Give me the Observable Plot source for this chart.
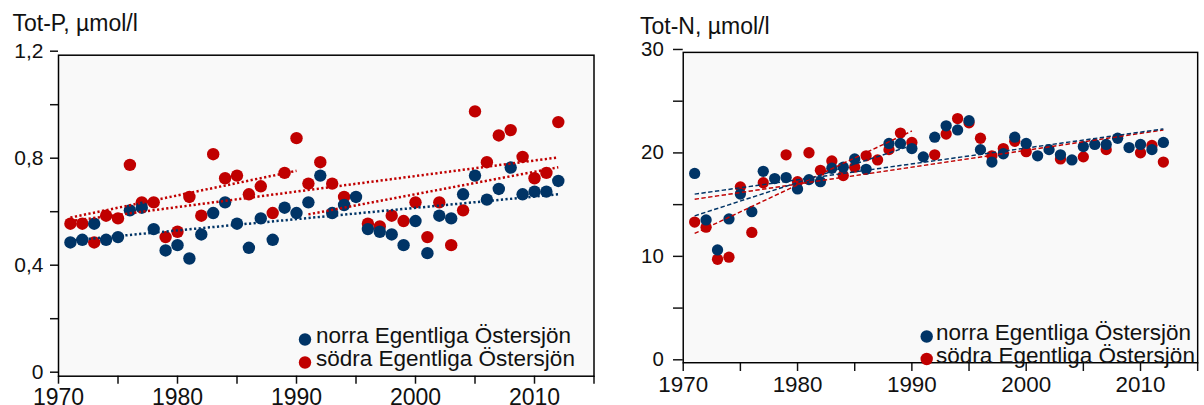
<!DOCTYPE html>
<html>
<head>
<meta charset="utf-8">
<script src="https://cdn.jsdelivr.net/npm/d3@7"></script>
<script src="https://cdn.jsdelivr.net/npm/@observablehq/plot@0.6"></script>
<style>
  html, body { margin: 0; padding: 0; background: #fff; overflow: hidden; }
  #wrap { position: relative; width: 1204px; height: 405px; overflow: hidden; font-family: "Liberation Sans", Arial, sans-serif; }
  .panel { position: absolute; top: 0; }
  #overlay { position: absolute; left: 0; top: 0; pointer-events: none; }
  g[aria-label="x-axis tick label"] { font-size: 23px; }
  g[aria-label="y-axis tick label"] { font-size: 21px; }
</style>
</head>
<body>
<div id="wrap">
  <div id="left" class="panel" style="left:0px"></div>
  <div id="right" class="panel" style="left:610px"></div>
</div>
<script>
// ---------- data ----------
const years = d3.range(1971, 2013);

// Tot-P, µmol/l
const pNorra = [0.50,0.51,0.57,0.51,0.52,0.62,0.63,0.55,0.47,0.49,0.44,0.53,0.61,0.65,0.57,0.48,0.59,0.51,0.63,0.61,
                0.65,0.75,0.61,0.64,0.67,0.55,0.54,0.53,0.49,0.58,0.46,0.60,0.59,0.68,0.75,0.66,0.70,0.78,0.68,0.69,0.69,0.73];
const pSodra = [0.57,0.57,0.50,0.60,0.59,0.79,0.65,0.65,0.52,0.54,0.67,0.60,0.83,0.74,0.75,0.68,0.71,0.61,0.76,0.89,
                0.72,0.80,0.72,0.67,null,0.57,0.56,0.60,0.58,0.65,0.52,0.65,0.49,0.62,0.99,0.80,0.90,0.92,0.82,0.74,0.76,0.95];

// Tot-N, µmol/l
const nNorra = [18.3,13.8,10.9,13.9,16.3,14.6,18.5,17.8,17.9,16.8,17.7,17.5,18.8,18.9,19.7,18.7,null,21.2,21.2,20.7,
                19.9,21.8,22.9,22.5,23.4,20.6,19.4,20.2,21.8,21.2,20.0,20.6,20.1,19.6,20.9,21.1,21.1,21.7,20.8,21.1,20.6,21.3];
const nSodra = [13.6,13.1,10.0,10.2,17.0,12.6,17.4,null,20.1,17.5,20.3,18.6,19.5,18.1,18.9,20.0,19.6,20.6,22.2,21.3,
                null,20.1,22.1,23.6,23.2,21.7,20.0,20.7,21.4,20.4,null,null,19.7,null,19.9,null,20.6,null,null,20.3,21.0,19.4];

// trend lines: [year, value] end points
const pTrendNorra  = [[1971, 0.507], [2012, 0.680]];
const pTrendSodraA = [[1971, 0.593], [1990, 0.768]];
const pTrendSodraB = [[1971, 0.580], [2012, 0.818]];
const pTrendSodraC = [[1991, 0.605], [2012, 0.781]];

const nTrendNorraA = [[1971, 16.3], [2012, 22.6]];
const nTrendNorraB = [[1971, 14.2], [1990, 21.0]];
const nTrendSodraA = [[1971, 15.8], [2012, 22.5]];
const nTrendSodraB = [[1971, 12.5], [1990, 22.4]];

const seriesNames = ["norra Egentliga Östersjön", "södra Egentliga Östersjön"];
const titles = ["Tot-P, µmol/l", "Tot-N, µmol/l"];
const xTicks = d3.range(1970, 2016, 5);
const pYTicks = [0, 0.2, 0.4, 0.6, 0.8, 1.0, 1.2];
const nYTicks = [0, 5, 10, 15, 20, 25, 30];

// ---------- style ----------
const BLUE = "#003466";
const RED = "#c00000";
const BG = "#f9f9f9";

function rows(vals) {
  return years.map((y, i) => ({year: y, v: vals[i]})).filter(d => d.v != null);
}
function trend(pts) { return pts.map(([year, v]) => ({year, v})); }

const pFmt = d => (Math.round(d * 10) % 4 === 0 ? String(d).replace(".", ",") : "");
const nFmt = d => (d % 10 === 0 ? String(d) : "");
const xFmt = d => (d % 10 === 0 ? String(d) : "");

const baseStyle = {fontFamily: "'Liberation Sans', Arial, sans-serif", fontSize: "20px", color: "#111", background: "transparent", overflow: "visible"};

const dotted = {x: "year", y: "v", strokeWidth: 2.5, strokeDasharray: "2.2,2.4", strokeLinecap: "butt"};
const dashed = {x: "year", y: "v", strokeWidth: 1.5, strokeDasharray: "4.5,2.5", strokeLinecap: "butt"};

const left = Plot.plot({
  width: 600, height: 405,
  marginLeft: 58, marginRight: 6.5, marginTop: 54.7, marginBottom: 29.3,
  style: baseStyle,
  x: {domain: [1970, 2015], axis: null},
  y: {domain: [0, 1.2], axis: null},
  marks: [
    Plot.frame({fill: BG}),
    Plot.axisX({ticks: xTicks, label: null, tickSize: 8, tickPadding: 4, tickFormat: xFmt, fontSize: 23, strokeWidth: 1.5}),
    Plot.axisY({ticks: pYTicks, label: null, tickSize: 8, tickPadding: 7, tickFormat: pFmt, dy: -4, fontSize: 21, strokeWidth: 1.5}),
    Plot.dot(rows(pSodra), {x: "year", y: "v", r: 6.2, fill: RED}),
    Plot.dot(rows(pNorra), {x: "year", y: "v", r: 6.2, fill: BLUE}),
    Plot.line(trend(pTrendSodraA), {...dotted, stroke: RED}),
    Plot.line(trend(pTrendSodraB), {...dotted, stroke: RED}),
    Plot.line(trend(pTrendSodraC), {...dotted, stroke: RED}),
    Plot.line(trend(pTrendNorra), {...dotted, stroke: BLUE}),
    Plot.frame({stroke: "#000", strokeWidth: 1.5})
  ]
});
document.getElementById("left").appendChild(left);

const right = Plot.plot({
  width: 610, height: 405,
  marginLeft: 74.7, marginRight: 7, marginTop: 53.3, marginBottom: 33,
  style: baseStyle,
  x: {domain: [1970, 2015], axis: null},
  y: {domain: [0, 30], axis: null},
  marks: [
    Plot.frame({fill: BG}),
    Plot.axisX({ticks: xTicks, label: null, tickSize: 9, tickPadding: 5, tickFormat: xFmt, fontSize: 23, strokeWidth: 1.5}),
    Plot.axisY({ticks: nYTicks, label: null, tickSize: 10, tickPadding: 10, tickFormat: nFmt, dy: -3, fontSize: 21, strokeWidth: 1.5}),
    Plot.dot(rows(nSodra), {x: "year", y: "v", r: 5.8, fill: RED}),
    Plot.dot(rows(nNorra), {x: "year", y: "v", r: 5.8, fill: BLUE}),
    Plot.line(trend(nTrendSodraA), {...dashed, stroke: RED}),
    Plot.line(trend(nTrendSodraB), {...dashed, stroke: RED}),
    Plot.line(trend(nTrendNorraA), {...dashed, stroke: BLUE}),
    Plot.line(trend(nTrendNorraB), {...dashed, stroke: BLUE}),
    Plot.frame({stroke: "#000", strokeWidth: 1.5})
  ]
});
document.getElementById("right").appendChild(right);

// ---------- titles and legends (overlay) ----------
const ov = d3.select("#wrap").append("svg").attr("id", "overlay")
  .attr("width", 1204).attr("height", 405)
  .style("font-family", "'Liberation Sans', Arial, sans-serif");

const titleSpec = [{t: titles[0], x: 12.5, y: 31}, {t: titles[1], x: 640, y: 33.5}];
ov.selectAll("text.title").data(titleSpec).join("text")
  .attr("class", "title").attr("x", d => d.x).attr("y", d => d.y)
  .attr("font-size", 23).attr("fill", "#111").text(d => d.t);

const legends = [
  {dx: 305, tx: 316, y: [339.5, 362.5], ty: [343, 366]},
  {dx: 926.7, tx: 936, y: [336.5, 359], ty: [340, 363]}
];
const colors = [BLUE, RED];
legends.forEach(L => {
  seriesNames.forEach((name, i) => {
    ov.append("circle").attr("cx", L.dx).attr("cy", L.y[i]).attr("r", 6.2).attr("fill", colors[i]);
    ov.append("text").attr("x", L.tx).attr("y", L.ty[i]).attr("font-size", 22.5).attr("fill", "#111").text(name);
  });
});
</script>
</body>
</html>
